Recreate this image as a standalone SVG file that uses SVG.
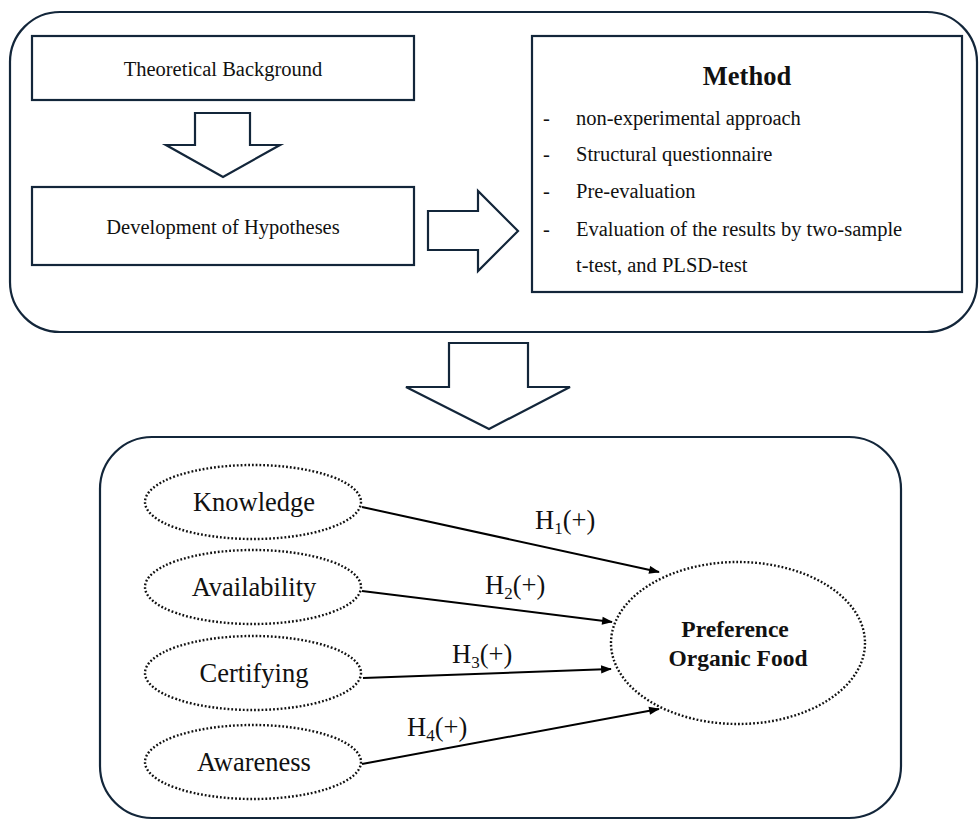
<svg xmlns="http://www.w3.org/2000/svg" width="979" height="821" viewBox="0 0 979 821">
<defs>
<style>
.frame{fill:none;stroke:#13263a;stroke-width:2.2}
.box{fill:#fff;stroke:#13263a;stroke-width:2.2}
.blk{fill:#fff;stroke:#13263a;stroke-width:2.2;stroke-linejoin:miter}
.dot{fill:#fff;stroke:#111;stroke-width:2.4;stroke-dasharray:1.8 2}
.t{font-family:"Liberation Serif","Times New Roman",serif;fill:#111}
.edge{stroke:#000;stroke-width:2;fill:none;marker-end:url(#ah)}
</style>
<marker id="ah" viewBox="0 0 12 10" refX="11" refY="5" markerWidth="12" markerHeight="9" orient="auto" markerUnits="userSpaceOnUse">
<path d="M0,0.5 L12,5 L0,9.5 z" fill="#000"/>
</marker>
</defs>
<rect width="979" height="821" fill="#fff"/>

<g id="top-frame">
<rect class="frame" x="10" y="12" width="967" height="320" rx="50" ry="50"/>
</g>

<g id="theoretical">
<rect class="box" x="32" y="36" width="382" height="64"/>
<text class="t" x="223" y="76" font-size="20.5" text-anchor="middle">Theoretical Background</text>
</g>

<g id="arrow-down-small">
<path class="blk" d="M195,113 H250 V145 H280 L223,177 L166,145 H195 Z"/>
</g>

<g id="development">
<rect class="box" x="32" y="187" width="382" height="78"/>
<text class="t" x="223" y="234" font-size="20.5" text-anchor="middle">Development of Hypotheses</text>
</g>

<g id="arrow-right">
<path class="blk" d="M428,211 H478 V191 L518,231 L478,271 V250 H428 Z"/>
</g>

<g id="method">
<rect class="box" x="532" y="36" width="430" height="256"/>
<text class="t" x="747" y="85" font-size="26.5" font-weight="bold" text-anchor="middle">Method</text>
<text class="t" font-size="20.5">
<tspan x="543" y="125">-</tspan><tspan x="576" y="125">non-experimental approach</tspan>
<tspan x="543" y="161">-</tspan><tspan x="576" y="161">Structural questionnaire</tspan>
<tspan x="543" y="198">-</tspan><tspan x="576" y="198">Pre-evaluation</tspan>
<tspan x="543" y="236">-</tspan><tspan x="576" y="236">Evaluation of the results by two-sample</tspan>
<tspan x="576" y="272">t-test, and PLSD-test</tspan>
</text>
</g>

<g id="arrow-down-big">
<path class="blk" d="M449,343 H528 V387 H570 L489,429 L406,387 H449 Z"/>
</g>

<g id="bottom-frame">
<rect class="frame" x="100" y="437" width="801" height="381" rx="52" ry="52"/>
</g>

<g id="knowledge">
<ellipse class="dot" cx="253" cy="502" rx="108" ry="37"/>
<text class="t" x="254" y="511" font-size="26.5" text-anchor="middle">Knowledge</text>
</g>
<g id="availability">
<ellipse class="dot" cx="253" cy="587" rx="108" ry="37"/>
<text class="t" x="254" y="596" font-size="26.5" text-anchor="middle">Availability</text>
</g>
<g id="certifying">
<ellipse class="dot" cx="253" cy="673" rx="108" ry="37"/>
<text class="t" x="254" y="682" font-size="26.5" text-anchor="middle">Certifying</text>
</g>
<g id="awareness">
<ellipse class="dot" cx="253" cy="762" rx="108" ry="37"/>
<text class="t" x="254" y="771" font-size="26.5" text-anchor="middle">Awareness</text>
</g>

<g id="preference">
<ellipse class="dot" cx="738" cy="643" rx="127" ry="81"/>
<text class="t" font-size="23.5" font-weight="bold" text-anchor="middle">
<tspan x="738" y="637">Preference</tspan>
<tspan x="738" y="666">Organic Food</tspan>
</text>
</g>

<g id="connectors">
<line class="edge" x1="362" y1="507" x2="659" y2="572"/>
<line class="edge" x1="362" y1="591" x2="612" y2="622"/>
<line class="edge" x1="363" y1="678" x2="611" y2="669"/>
<line class="edge" x1="362" y1="764" x2="659" y2="709"/>
<text class="t" x="535" y="529" font-size="26.5">H<tspan font-size="17" dy="5">1</tspan><tspan dy="-5">(+)</tspan></text>
<text class="t" x="485" y="594" font-size="26.5">H<tspan font-size="17" dy="5">2</tspan><tspan dy="-5">(+)</tspan></text>
<text class="t" x="452" y="663" font-size="26.5">H<tspan font-size="17" dy="5">3</tspan><tspan dy="-5">(+)</tspan></text>
<text class="t" x="407" y="736" font-size="26.5">H<tspan font-size="17" dy="5">4</tspan><tspan dy="-5">(+)</tspan></text>
</g>
</svg>
